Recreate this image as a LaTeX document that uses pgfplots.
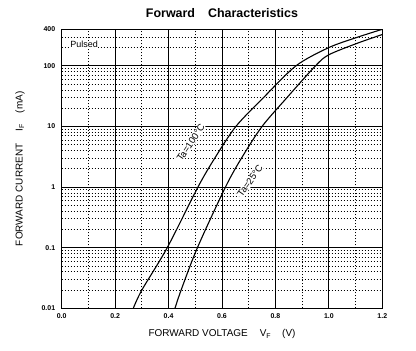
\documentclass[border=0pt]{standalone}
\usepackage{fontspec}
\setmainfont{Liberation Sans}
\usepackage{pgfplots}
\pgfplotsset{compat=1.18}
\begin{document}
\begin{tikzpicture}
\begin{axis}[
  name=ax,
  scale only axis,
  width=320.6bp, height=279bp,
  ymode=log,
  xmin=0, xmax=1.2, ymin=0.01, ymax=400,
  axis line style={line width=0.8bp},
  xtick={0,0.2,0.4,0.6,0.8,1.0,1.2},
  xticklabels={\textbf{0.0},\textbf{0.2},\textbf{0.4},\textbf{0.6},\textbf{0.8},\textbf{1.0},\textbf{1.2}},
  ytick={0.01,0.1,1,10,100,400},
  yticklabels={\textbf{0.01},\textbf{0.1},\textbf{1},\textbf{10},\textbf{100},\textbf{400}},
  minor xtick={0.1,0.3,0.5,0.7,0.9,1.1},
  minor ytick={0.02,0.03,0.04,0.05,0.06,0.07,0.08,0.09,0.2,0.3,0.4,0.5,0.6,0.7,0.8,0.9,2,3,4,5,6,7,8,9,20,30,40,50,60,70,80,90,200,300},
  major tick length=0pt, minor tick length=0pt,
  grid=both,
  major grid style={line width=0.8bp, black},
  minor grid style={line width=0.7bp, black, dash pattern=on 0.9bp off 2.1bp},
  ticklabel style={font=\fontsize{7}{8}\selectfont},
  xticklabel style={yshift=-1.5bp},
  yticklabel style={xshift=-3bp},
  title={\textbf{Forward\hspace{13bp}Characteristics}},
  title style={font=\fontsize{12.5}{14}\selectfont, at={(axis description cs:0.5,1.0226)}, anchor=base},
  xlabel={FORWARD VOLTAGE\hspace{12bp}V\textsubscript{F}\hspace{11bp}(V)},
  xlabel style={font=\fontsize{10}{12}\selectfont, at={(axis description cs:0.5,-0.1018)}, anchor=base},
  ylabel={FORWARD CURRENT\hspace{12bp}I\textsubscript{F}\hspace{11bp}(mA)},
  ylabel style={font=\fontsize{10}{12}\selectfont, at={(axis description cs:-0.1216,0.5)}, anchor=base, rotate=0},
]
\addplot[black, line width=1.1bp, smooth, tension=0.5] coordinates {
 (0.268,0.01) (0.30,0.02) (0.395,0.1) (0.51,1) (0.574,3.05) (0.652,10) (0.755,29.8) (0.877,100) (1.0,200) (1.107,296) (1.2,400)
};
\addplot[black, line width=1.1bp, smooth, tension=0.5] coordinates {
 (0.424,0.01) (0.447,0.02) (0.508,0.1) (0.613,1) (0.674,3.05) (0.75,10) (0.843,29.8) (0.95,100) (1.0,152) (1.107,236) (1.2,328)
};
\coordinate (lab100) at (axis cs:0.483,5.38);
\coordinate (lab25) at (axis cs:0.705,1.26);
\coordinate (labp) at (axis cs:0.03,200);
\end{axis}
\node[rotate=56, fill=white, inner sep=0.6pt, font=\fontsize{9.5}{10}\selectfont] at (lab100) {Ta=100°C};
\node[rotate=55, fill=white, inner sep=0.6pt, font=\fontsize{9.5}{10}\selectfont] at (lab25) {Ta=25°C};
\node[anchor=base west, fill=white, inner sep=0.5pt, font=\fontsize{9}{10}\selectfont] at (labp) {Pulsed};
\path ([xshift=-61.7bp,yshift=-42.7bp]ax.south west) rectangle ([xshift=354.3bp,yshift=308.3bp]ax.south west);
\end{tikzpicture}
\end{document}
